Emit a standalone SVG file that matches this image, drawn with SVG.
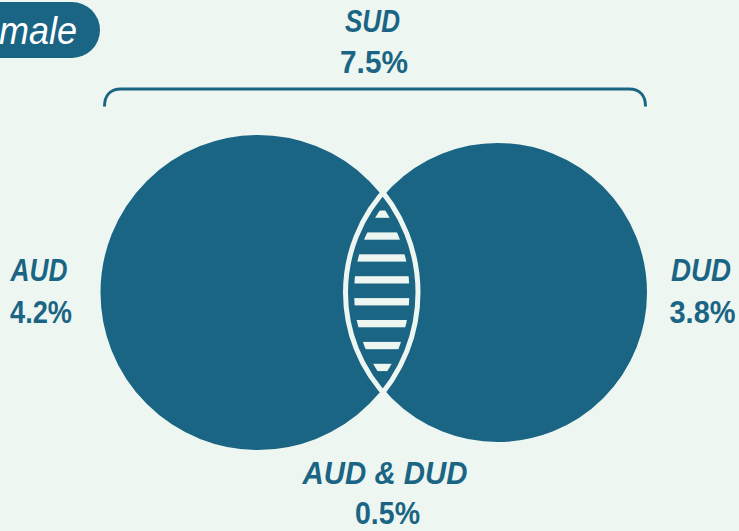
<svg xmlns="http://www.w3.org/2000/svg" width="739" height="531" viewBox="0 0 739 531">
  <style>
    .lbl { font-family: "Liberation Sans", Arial, sans-serif; font-weight: bold; font-size: 31px; fill: #1b6584; text-anchor: middle; }
    .it { font-style: italic; }
    .circ { fill: #1b6584; }
    .edge { fill: none; stroke: #edf6f1; stroke-width: 5; }
    .stripe { fill: #edf6f1; }
  </style>
  <defs>
    <clipPath id="clipL"><circle cx="258" cy="292.5" r="151.5"/></clipPath>
    <clipPath id="clipR"><circle cx="497.5" cy="292.5" r="143.5"/></clipPath>
  </defs>
  <rect width="739" height="531" fill="#edf6f1"/>

  <g id="tag">
    <rect x="-40" y="2" width="140" height="56" rx="28" fill="#1b6584"/>
    <text x="77" y="44" font-family="Liberation Sans, Arial, sans-serif" font-style="italic" font-size="39" fill="#ffffff" text-anchor="end" textLength="78" lengthAdjust="spacingAndGlyphs">male</text>
  </g>

  <g id="sud">
    <path d="M104.5,106.5 C104.5,96 110,89 121,89 H629 C640,89 645.5,96 645.5,106.5" fill="none" stroke="#1b6584" stroke-width="3"/>
    <text class="lbl it" x="372.5" y="32" textLength="55" lengthAdjust="spacingAndGlyphs">SUD</text>
    <text class="lbl" x="374" y="72.5" textLength="68" lengthAdjust="spacingAndGlyphs">7.5%</text>
  </g>

  <g id="aud">
    <circle class="circ" cx="258" cy="292.5" r="160"/>
    <text class="lbl it" x="39" y="280.5" textLength="57" lengthAdjust="spacingAndGlyphs">AUD</text>
    <text class="lbl" x="41" y="322.5" textLength="62" lengthAdjust="spacingAndGlyphs">4.2%</text>
  </g>

  <g id="dud">
    <circle class="circ" cx="497.5" cy="292.5" r="152"/>
    <text class="lbl it" x="701" y="280.5" textLength="60" lengthAdjust="spacingAndGlyphs">DUD</text>
    <text class="lbl" x="702.5" y="322.5" textLength="66" lengthAdjust="spacingAndGlyphs">3.8%</text>
  </g>

  <g id="overlap">
    <g clip-path="url(#clipL)">
      <g clip-path="url(#clipR)">
        <rect class="stripe" x="330" y="210.5" width="100" height="7.3"/>
        <rect class="stripe" x="330" y="232.4" width="100" height="7.3"/>
        <rect class="stripe" x="330" y="254.3" width="100" height="7.3"/>
        <rect class="stripe" x="330" y="276.2" width="100" height="7.3"/>
        <rect class="stripe" x="330" y="298.1" width="100" height="7.3"/>
        <rect class="stripe" x="330" y="320" width="100" height="7.3"/>
        <rect class="stripe" x="330" y="341.9" width="100" height="7.3"/>
        <rect class="stripe" x="330" y="363.8" width="100" height="7.3"/>
      </g>
    </g>
    <circle class="edge" cx="258" cy="292.5" r="160"/>
    <circle class="edge" cx="497.5" cy="292.5" r="152"/>
    <text class="lbl it" x="385" y="483.5" textLength="165" lengthAdjust="spacingAndGlyphs">AUD &amp; DUD</text>
    <text class="lbl" x="387.5" y="523.5" textLength="65" lengthAdjust="spacingAndGlyphs">0.5%</text>
  </g>
</svg>
